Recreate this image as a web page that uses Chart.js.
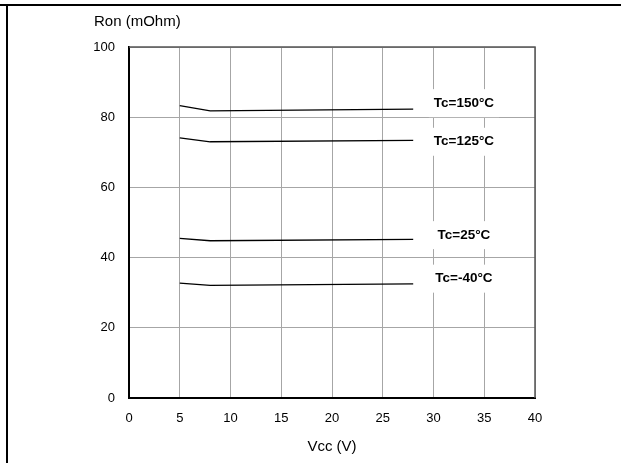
<!DOCTYPE html>
<html>
<head>
<meta charset="utf-8">
<script src="https://cdn.jsdelivr.net/npm/chart.js@4.4.1/dist/chart.umd.min.js"></script>
<style>
  html, body { margin: 0; padding: 0; background: #fff; }
  #wrap { width: 621px; height: 463px; position: relative; }
</style>
</head>
<body>
<div id="wrap"><canvas id="myChart" width="621" height="463"></canvas></div>
<script>
// Vcc (V) sample points, same for each curve
const vcc = [5, 8, 28];
// Ron (mOhm) for each case temperature
const ron150 = [83.3, 81.8, 82.3];
const ron125 = [74.1, 73.0, 73.4];
const ron25 = [45.5, 44.8, 45.2];
const ronM40 = [32.7, 32.1, 32.5];
const seriesNames = ['Tc=150°C', 'Tc=125°C', 'Tc=25°C', 'Tc=-40°C'];
// where the curve labels sit, in data units
const labelX = [33, 33, 33, 33];
const labelY = [84.0, 73.0, 46.4, 34.0];

const FONT = '"Liberation Sans", Arial, sans-serif';

function toPoints(ys) {
    return vcc.map(function (x, i) { return { x: x, y: ys[i] }; });
}

function lineSet(label, ys) {
    return {
        label: label,
        data: toPoints(ys),
        showLine: true,
        borderColor: '#000',
        borderWidth: 1.3,
        pointRadius: 0,
        tension: 0,
        fill: false
    };
}

// page frame, plot frame, y title and the curve labels
const decor = {
    id: 'decor',
    beforeDraw: function (chart) {
        const ctx = chart.ctx;
        ctx.save();
        ctx.fillStyle = '#000';
        ctx.fillRect(0, 4, chart.width, 2);
        ctx.fillRect(6, 4, 2, chart.height - 4);
        ctx.restore();
    },
    afterDatasetsDraw: function (chart) {
        const ctx = chart.ctx;
        const area = chart.chartArea;
        const xs = chart.scales.x;
        const ys = chart.scales.y;
        ctx.save();
        // top and right edges of the plot
        ctx.strokeStyle = '#555';
        ctx.lineWidth = 1.5;
        ctx.beginPath();
        ctx.moveTo(area.left, area.top);
        ctx.lineTo(area.right, area.top);
        ctx.lineTo(area.right, area.bottom);
        ctx.stroke();

        ctx.font = 'bold 13.5px ' + FONT;
        ctx.textAlign = 'center';
        ctx.textBaseline = 'middle';
        seriesNames.forEach(function (name, i) {
            const px = xs.getPixelForValue(labelX[i]);
            const py = ys.getPixelForValue(labelY[i]);
            const w = ctx.measureText(name).width + 10;
            ctx.fillStyle = '#fff';
            ctx.fillRect(px - w / 2, py - 14, w, 28);
            ctx.fillStyle = '#000';
            ctx.fillText(name, px, py);
        });

        ctx.font = '15px ' + FONT;
        ctx.textAlign = 'left';
        ctx.fillText('Ron (mOhm)', area.left - 35, area.top - 25);
        ctx.restore();
    }
};

const config = {
    type: 'scatter',
    data: {
        datasets: [
            lineSet(seriesNames[0], ron150),
            lineSet(seriesNames[1], ron125),
            lineSet(seriesNames[2], ron25),
            lineSet(seriesNames[3], ronM40)
        ]
    },
    options: {
        responsive: false,
        animation: false,
        layout: { padding: { left: 0, top: 47, right: 86, bottom: 0 } },
        plugins: {
            legend: { display: false },
            tooltip: { enabled: false }
        },
        scales: {
            x: {
                type: 'linear',
                min: 0,
                max: 40,
                afterFit: function (scale) { scale.height = 65; },
                ticks: {
                    stepSize: 5,
                    padding: 13,
                    color: '#000',
                    font: { family: FONT, size: 13 }
                },
                grid: { color: '#a6a6a6', lineWidth: 1, drawTicks: false },
                border: { color: '#000', width: 2 },
                title: {
                    display: true,
                    text: 'Vcc (V)',
                    color: '#000',
                    font: { family: FONT, size: 15 },
                    padding: { top: 0, bottom: 7 }
                }
            },
            y: {
                type: 'linear',
                min: 0,
                max: 100,
                afterFit: function (scale) { scale.width = 129; },
                ticks: {
                    stepSize: 20,
                    padding: 14,
                    color: '#000',
                    font: { family: FONT, size: 13 }
                },
                grid: { color: '#a6a6a6', lineWidth: 1, drawTicks: false },
                border: { color: '#000', width: 2 }
            }
        }
    },
    plugins: [decor]
};

const chart = new Chart(document.getElementById('myChart'), config);
</script>
</body>
</html>
